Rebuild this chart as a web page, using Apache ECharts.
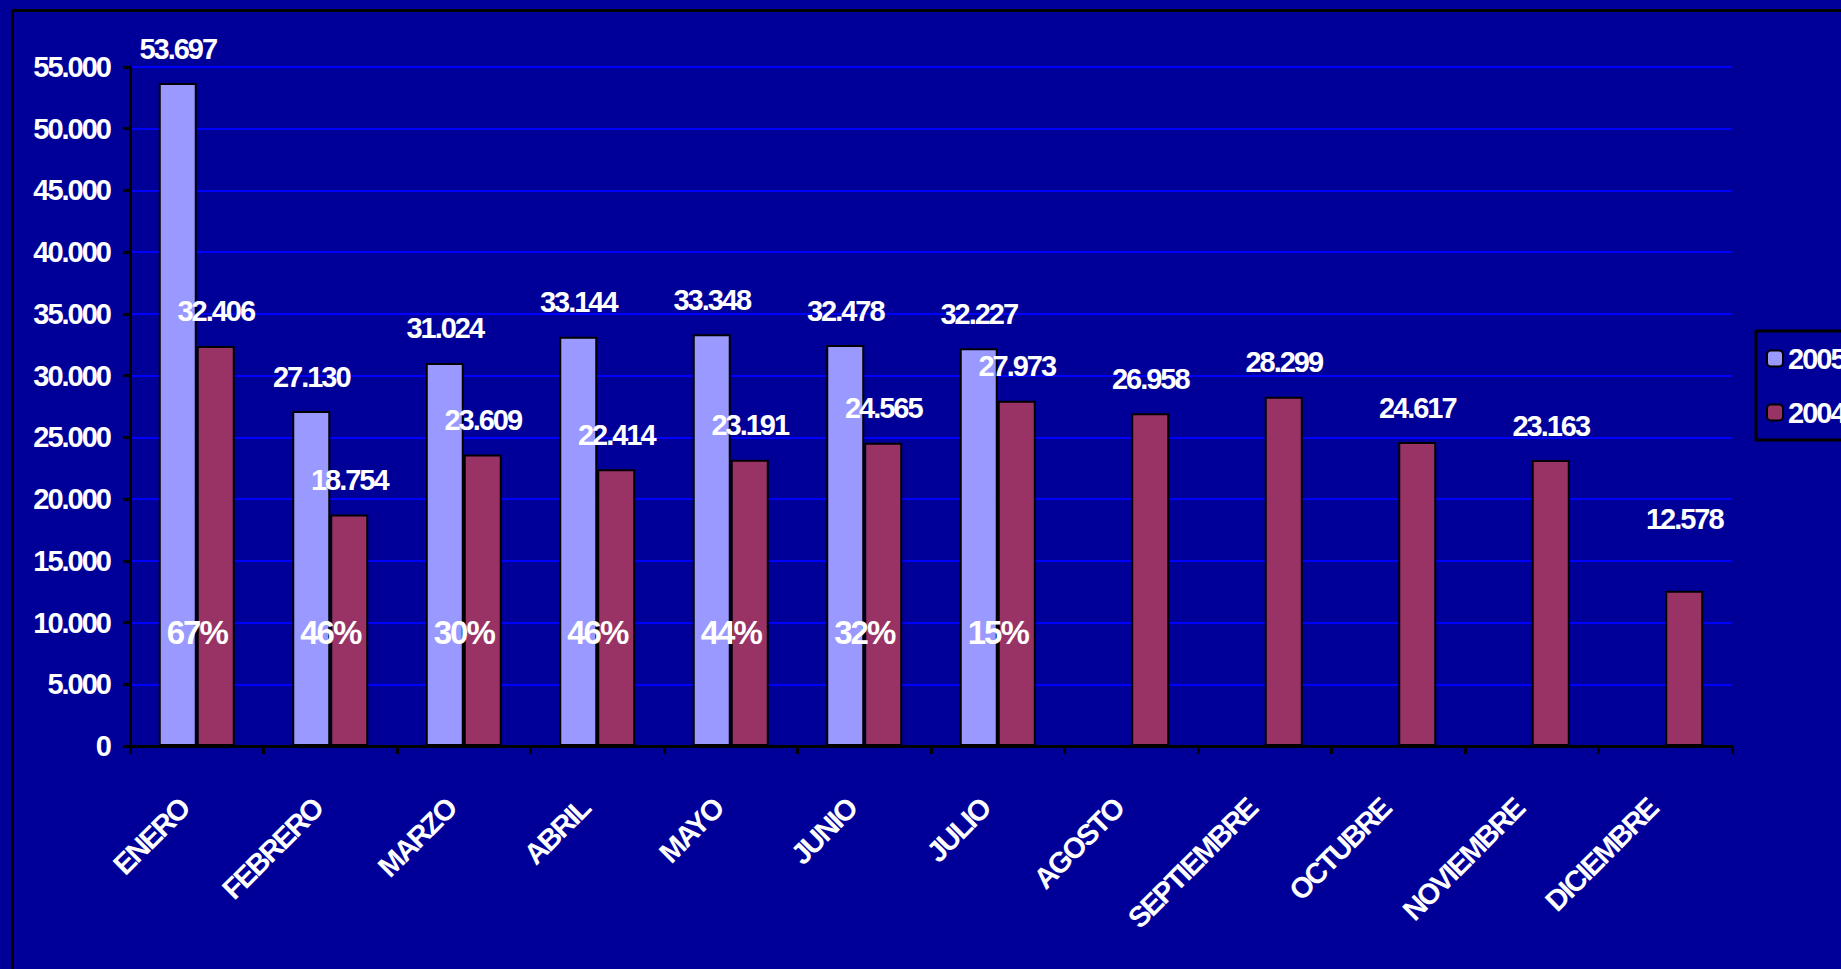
<!DOCTYPE html>
<html>
<head>
<meta charset="utf-8">
<style>
html,body{margin:0;padding:0;background:#000099;}
#chart{width:1841px;height:969px;}
#chart text{letter-spacing:-2px;}
</style>
<script src="https://cdn.jsdelivr.net/npm/echarts@6/dist/echarts.min.js"></script>
</head>
<body>
<div id="chart"></div>
<script>
var categories = ['ENERO','FEBRERO','MARZO','ABRIL','MAYO','JUNIO','JULIO','AGOSTO','SEPTIEMBRE','OCTUBRE','NOVIEMBRE','DICIEMBRE'];
var values2005 = [53697, 27130, 31024, 33144, 33348, 32478, 32227, null, null, null, null, null];
var values2004 = [32406, 18754, 23609, 22414, 23191, 24565, 27973, 26958, 28299, 24617, 23163, 12578];
var growthPct = [67, 46, 30, 46, 44, 32, 15];
var seriesNames = ['2005', '2004'];

var FONT = "'Liberation Sans',Arial,sans-serif";
function fmt(v){ return String(v).replace(/\B(?=(\d{3})+(?!\d))/g, '.'); }

var pctLevel = 9200;
var pctData = growthPct.map(function(){ return pctLevel; });
// the December label sits higher above its bar in the original
var data2004 = values2004.map(function(v, i){
  return i === values2004.length - 1 ? {value: v, label: {distance: 57}} : v;
});

var labelText = {color: '#ffffff', fontFamily: FONT, fontWeight: 'bold', fontSize: 29};

var chart = echarts.init(document.getElementById('chart'), null, {renderer: 'svg'});
chart.setOption({
  backgroundColor: '#000099',
  animation: false,
  graphic: [{
    type: 'rect', left: 10, top: 8, z: 100, silent: true,
    shape: {width: 2000, height: 2000},
    style: {fill: 'none', stroke: '#000000', lineWidth: 3}
  }],
  legend: {
    orient: 'vertical', left: 1756, top: 331,
    data: seriesNames,
    itemWidth: 16, itemHeight: 16, itemGap: 25,
    padding: [13, 40, 13, 10],
    borderColor: '#000000', borderWidth: 3,
    textStyle: labelText
  },
  grid: {left: 130, right: 109, top: 67, bottom: 223, containLabel: false},
  xAxis: {
    type: 'category', data: categories,
    axisLine: {lineStyle: {color: '#000000', width: 3}},
    axisTick: {show: true, length: 8, lineStyle: {color: '#000000', width: 3}},
    axisLabel: Object.assign({rotate: 45, margin: 45, interval: 0, padding: [0, 18, 0, 0]}, labelText)
  },
  yAxis: {
    type: 'value', min: 0, max: 55000, interval: 5000,
    axisLine: {show: true, lineStyle: {color: '#000000', width: 3}},
    axisTick: {show: true, length: 7, lineStyle: {color: '#000000', width: 3}},
    splitLine: {lineStyle: {color: '#0000FF', width: 2}},
    axisLabel: Object.assign({margin: 20, formatter: function(v){ return fmt(v); }}, labelText)
  },
  series: [
    {
      name: seriesNames[0], type: 'bar', data: values2005, barWidth: 38, barGap: '0%',
      itemStyle: {color: '#9999FF', borderColor: '#000000', borderWidth: 2},
      label: Object.assign({show: true, position: 'top', distance: 20, formatter: function(p){ return fmt(p.value); }}, labelText)
    },
    {
      name: seriesNames[1], type: 'bar', data: data2004, barWidth: 38, barGap: '0%',
      itemStyle: {color: '#993366', borderColor: '#000000', borderWidth: 2},
      label: Object.assign({show: true, position: 'top', distance: 20, formatter: function(p){ return fmt(p.value); }}, labelText)
    },
    {
      name: 'pct', type: 'scatter', data: pctData, symbolSize: 0, silent: true, z: 10,
      itemStyle: {opacity: 1},
      label: {show: true, position: 'inside', color: '#ffffff', opacity: 1, fontFamily: FONT, fontWeight: 'bold', fontSize: 33,
        formatter: function(p){ return growthPct[p.dataIndex] + '%'; }}
    }
  ]
});
</script>
</body>
</html>
